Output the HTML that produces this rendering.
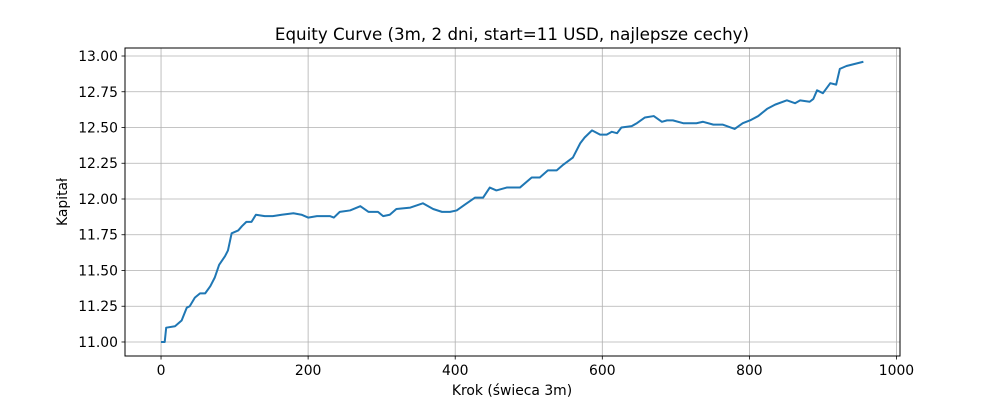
<!DOCTYPE html>
<html><head><meta charset="utf-8"><style>
body{margin:0;background:#fff}
svg{display:block;font-family:"DejaVu Sans","Liberation Sans",sans-serif}
</style></head><body>
<svg id="chart" width="1000" height="400" viewBox="0 0 1000 400">
<rect width="1000" height="400" fill="#fff"/>
<text x="512" y="40" text-anchor="middle" font-size="16.7">Equity Curve (3m, 2 dni, start=11 USD, najlepsze cechy)</text>
<g id="grid"></g><g id="ticks"></g><g id="plot"></g>
<rect x="125" y="48" width="775" height="308" fill="none" stroke="#000" stroke-width="1"/>
<text x="512" y="395" text-anchor="middle" font-size="13.9">Krok (świeca 3m)</text>
<text transform="translate(67,202) rotate(-90)" text-anchor="middle" font-size="13.9">Kapitał</text>
</svg>
<script>
const steps=[0,5,7,19,28,35,39,46,53,60,67,73,79,87,91,96,105,110,116,123,129,141,152,164,180,191,200,212,230,235,243,257,271,282,295,302,311,320,339,356,370,382,393,402,413,427,438,447,456,470,488,504,515,526,538,547,560,570,576,586,597,606,613,620,626,640,647,658,670,681,688,696,710,728,737,751,764,780,791,801,812,824,835,851,862,869,882,887,892,900,910,918,923,932,955];
const equity=[11.00,11.00,11.10,11.11,11.15,11.24,11.25,11.31,11.34,11.34,11.39,11.45,11.54,11.60,11.64,11.76,11.78,11.81,11.84,11.84,11.89,11.88,11.88,11.89,11.90,11.89,11.87,11.88,11.88,11.87,11.91,11.92,11.95,11.91,11.91,11.88,11.89,11.93,11.94,11.97,11.93,11.91,11.91,11.92,11.96,12.01,12.01,12.08,12.06,12.08,12.08,12.15,12.15,12.20,12.20,12.24,12.29,12.39,12.43,12.48,12.45,12.45,12.47,12.46,12.50,12.51,12.53,12.57,12.58,12.54,12.55,12.55,12.53,12.53,12.54,12.52,12.52,12.49,12.53,12.55,12.58,12.63,12.66,12.69,12.67,12.69,12.68,12.70,12.76,12.74,12.81,12.80,12.91,12.93,12.96];
const xTicks=[0,200,400,600,800,1000];
const yTicks=[11.00,11.25,11.50,11.75,12.00,12.25,12.50,12.75,13.00];
const L=125,R=900,T=48,B=356,xMin=-49,xMax=1004.8,yMin=10.902,yMax=13.056;
const X=v=>L+(v-xMin)/(xMax-xMin)*(R-L);
const Y=v=>B-(v-yMin)/(yMax-yMin)*(B-T);
const NS="http://www.w3.org/2000/svg";
const mk=(t,a,p)=>{const e=document.createElementNS(NS,t);for(const k in a)e.setAttribute(k,a[k]);p.appendChild(e);return e;};
const grid=document.getElementById('grid'),ticks=document.getElementById('ticks'),plot=document.getElementById('plot');
xTicks.forEach(t=>{const x=X(t);
 const g=mk('line',{x1:x,x2:x,y1:T,y2:B,stroke:'#b0b0b0','stroke-width':0.8},grid);
 
 
 mk('line',{x1:x,x2:x,y1:B,y2:B+3.5,stroke:'#000','stroke-width':0.8},ticks);
 const s=mk('text',{x:x,y:B+19,'text-anchor':'middle','font-size':13.9},ticks);s.textContent=t;
 
 });
yTicks.forEach(t=>{const y=Y(t);
 const g=mk('line',{x1:L,x2:R,y1:y,y2:y,stroke:'#b0b0b0','stroke-width':0.8},grid);
 
 
 mk('line',{x1:L-3.5,x2:L,y1:y,y2:y,stroke:'#000','stroke-width':0.8},ticks);
 const s=mk('text',{x:L-7,y:y+5,'text-anchor':'end','font-size':13.9},ticks);s.textContent=t.toFixed(2);
 
 });
const p=mk('polyline',{points:steps.map((s,i)=>X(s)+','+Y(equity[i])).join(' '),fill:'none',stroke:'#1f77b4','stroke-width':2,'stroke-linejoin':'round'},plot);


</script>
</body></html>
